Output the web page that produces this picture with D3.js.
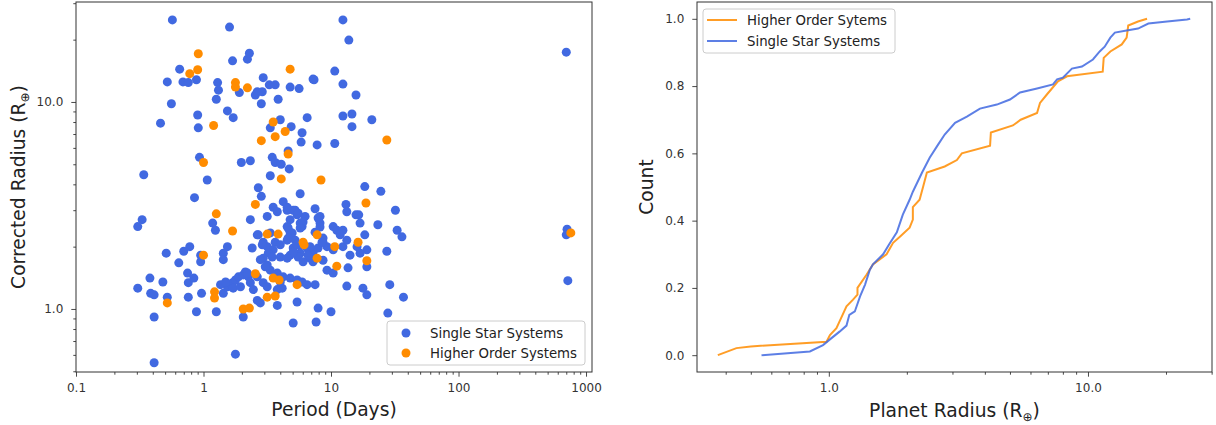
<!DOCTYPE html>
<html><head><meta charset="utf-8">
<script src="https://cdn.jsdelivr.net/npm/d3@7"></script>
<style>body{margin:0;background:#fff} svg text{font-family:"DejaVu Sans",sans-serif}</style>
</head><body><svg id="c" width="1216" height="425"></svg>
<script>
// Left panel: [period (days), corrected radius (R_earth)]
const singleStars = [[0.57,24.9],[1.6,23.0],[1.69,15.8],[2.21,16.1],[2.29,17.2],[0.65,14.4],[0.52,12.5],[0.69,12.5],[0.76,12.4],[0.88,12.8],[1.29,12.4],[1.31,11.4],[1.26,10.3],[1.91,11.1],[2.55,10.8],[2.64,11.2],[2.89,11.2],[2.94,13.1],[3.28,12.1],[3.65,12.1],[3.85,10.3],[2.84,9.8],[4.78,11.8],[5.62,11.6],[7.23,12.9],[0.56,9.8],[0.46,7.9],[0.9,8.65],[0.91,7.5],[1.54,9.05],[1.71,8.4],[4.0,8.2],[3.34,7.5],[4.87,7.6],[6.5,8.4],[5.93,7.1],[5.83,6.4],[7.78,6.2],[0.93,5.4],[1.98,5.1],[2.33,5.2],[3.46,5.4],[3.65,5.1],[4.07,5.0],[4.61,5.8],[4.7,4.75],[3.34,4.4],[0.34,4.45],[1.07,4.2],[2.69,3.85],[2.84,3.5],[5.73,3.6],[0.85,3.45],[12.4,24.9],[13.8,19.9],[700,17.4],[10.7,14.1],[7.36,12.8],[12.4,12.2],[15.7,10.8],[12.4,8.55],[14.6,8.75],[14.6,7.6],[20.9,8.2],[10.7,6.3],[18.4,3.9],[24.6,3.7],
[4.22,3.3],[4.53,3.0],[3.52,3.1],[3.79,2.95],[7.5,3.05],[3.16,2.8],[5.05,3.0],[5.42,2.85],[0.33,2.7],[0.305,2.5],[2.33,2.7],[1.18,2.6],[1.24,2.4],[13.1,3.2],[13.3,2.95],[15.7,2.85],[16.5,2.85],[32,3.0],[6.26,2.8],[8.2,2.8],[8.2,2.6],[5.73,2.6],[4.78,2.7],[5.93,2.5],[16.9,2.6],[23.3,2.55],[10.4,2.5],[11.1,2.4],[12.4,2.4],[33,2.4],[36,2.23],[7.5,2.35],[4.53,2.5],[4.78,2.35],[4.53,2.15],[8.66,2.1],[9.3,2.0],[10.4,1.93],[12.4,2.0],[13.3,2.15],[16.0,2.0],[19.1,1.93],[27.4,1.9],[7.23,1.88],[5.73,1.86],[2.64,2.28],[2.94,2.1],[2.41,1.97],[3.16,2.0],[3.34,2.33],[3.65,2.1],[4.0,2.04],[3.52,1.93],[3.22,1.86],[2.94,1.76],[4.0,1.78],[0.51,1.86],[0.7,1.9],[0.78,2.0],[0.95,1.82],[0.95,1.69],[1.54,2.0],[1.43,1.86],[1.43,1.73],[11.8,2.28],[18.4,2.28],[5.23,2.15],[5.73,2.02],[6.49,1.97],[8.66,2.2],[7.92,1.97],[8.66,1.72],[6.85,1.76],[14.1,1.82],[16.9,1.86],[5.05,1.97],[4.78,1.82],[5.52,1.78],
[2.79,1.73],[3.16,1.63],[7.23,1.69],[6.04,1.69],[19.1,1.6],[13.6,1.58],[9.3,1.54],[10.4,1.49],[0.64,1.67],[0.75,1.49],[0.76,1.34],[0.84,1.41],[0.38,1.41],[0.48,1.35],[0.305,1.26],[0.385,1.19],[0.41,1.17],[0.52,1.14],[0.76,1.14],[0.965,1.19],[1.43,1.19],[1.54,1.28],[1.69,1.34],[1.78,1.38],[1.88,1.43],[2.05,1.46],[1.71,1.26],[1.95,1.28],[3.34,1.54],[3.79,1.49],[4.22,1.43],[4.78,1.41],[5.42,1.38],[5.93,1.35],[2.64,1.43],[2.94,1.34],[3.16,1.28],[3.79,1.24],[4.14,1.26],[2.64,1.1],[2.79,1.07],[3.79,1.04],[5.42,1.08],[7.92,1.01],[0.41,0.915],[0.88,0.97],[1.26,0.97],[2.05,0.915],[5.05,0.855],[7.64,0.865],[1.78,0.605],[0.41,0.55],[4.0,1.35],[6.49,1.31],[7.5,1.31],[13.3,1.29],[17.8,1.26],[19.1,1.17],[28.9,1.31],[37,1.14],[10,0.97],[27.9,0.955],[710,2.43],[700,2.28],[720,1.37],[2.25,1.43],[2.33,1.34],[2.46,1.24],[2.13,1.51],
[6.04,2.63],[5.73,2.46],[4.61,2.46],[4.96,2.33],[4.61,2.2],[5.42,2.04],[5.05,1.88],[6.85,2.0],[8.5,2.1],[6.6,1.82],[3.46,1.78],[4.53,1.76],[2.89,2.04],[2.69,2.28],[8.2,2.49],[7.92,2.75],[5.23,3.0],[5.52,2.9],[4.53,3.1],[1.36,1.31],[1.49,1.35],[3.05,1.6],[2.21,1.49]];

const higherOrder = [[0.91,17.1],[0.78,13.7],[0.9,14.3],[1.78,12.4],[1.78,11.8],[2.21,11.7],[4.78,14.4],[1.2,7.7],[3.52,8.0],[4.37,7.2],[3.65,6.8],[2.84,6.5],[4.61,5.6],[1.0,5.1],[4.07,4.25],[8.35,4.2],[2.55,3.2],[1.26,2.88],[27.4,6.55],[18.8,3.25],[1.69,2.38],[3.16,2.3],[3.85,2.3],[6.04,2.1],[6.15,2.04],[7.78,2.28],[7.78,1.76],[1.0,1.82],[2.55,1.48],[3.52,1.41],[3.92,1.38],[5.42,1.31],[1.22,1.21],[1.22,1.13],[0.52,1.07],[3.16,1.14],[3.65,1.155],[2.05,1.0],[2.29,1.01],[10.7,2.0],[16.3,2.1],[11.1,1.61],[19.1,1.71],[760,2.33]];

// Right panel: cumulative curves, planet radius vs count fraction
const singleCdfRadius = [0.55,0.845,0.95,1.01,1.10,1.17,1.2,1.26,1.32,1.38,1.44,1.48,1.62,1.71,1.83,1.93,2.05,2.11,2.29,2.45,2.64,2.8,3.07,3.41,3.83,4.45,5.0,5.47,6.36,7.33,7.6,8.0,8.67,9.48,10.45,11.1,11.6,12.2,12.7,14.1,15.6,17.1,20.2,24.1,24.8];
const singleCdfCount  = [0.0,0.011,0.03,0.047,0.07,0.088,0.12,0.13,0.175,0.21,0.254,0.27,0.30,0.33,0.365,0.418,0.462,0.486,0.543,0.587,0.626,0.656,0.691,0.709,0.733,0.745,0.76,0.781,0.793,0.805,0.82,0.825,0.852,0.858,0.879,0.903,0.917,0.944,0.959,0.965,0.971,0.986,0.992,0.998,1.0];
const higherCdfRadius = [0.373,0.44,0.5,0.98,1.01,1.07,1.13,1.17,1.24,1.29,1.29,1.4,1.48,1.67,1.77,1.88,2.05,2.11,2.11,2.24,2.31,2.39,2.8,3.12,3.26,4.19,4.22,5.13,5.5,6.36,6.53,6.94,7.66,8.3,11.4,11.5,12.2,13.5,14.1,14.3,15.6,16.9];
const higherCdfCount  = [0.0,0.021,0.026,0.04,0.06,0.08,0.12,0.145,0.165,0.18,0.2,0.24,0.27,0.30,0.334,0.352,0.379,0.403,0.44,0.462,0.5,0.543,0.561,0.58,0.6,0.623,0.662,0.683,0.7,0.72,0.75,0.775,0.814,0.829,0.843,0.884,0.903,0.924,0.944,0.98,0.992,1.0];

const leftXTicks = [0.1,1,10,100,1000];
const leftXTickLabels = ["0.1","1","10","100","1000"];
const leftYTicks = [1,10];
const leftYTickLabels = ["1.0","10.0"];
const rightXTicks = [1,10];
const rightXTickLabels = ["1.0","10.0"];
const rightYTicks = [0,0.2,0.4,0.6,0.8,1.0];
const rightYTickLabels = ["0.0","0.2","0.4","0.6","0.8","1.0"];

const BLUE = "#4169E1", ORANGE = "#FF8C00";
const svg = d3.select("#c");
const FONT = '"DejaVu Sans", sans-serif';
const MR = 4.5;

function minorLog(lo, hi) {
  const out = [];
  for (let e = -2; e <= 3; e++) for (let k = 2; k <= 9; k++) {
    const v = k * Math.pow(10, e);
    if (v >= lo && v <= hi) out.push(v);
  }
  return out;
}

function styleAxis(g) {
  g.attr("font-family", FONT).attr("font-size", 12);
  g.select(".domain").remove();
  g.selectAll(".tick line").attr("stroke", "#333").attr("stroke-width", 0.9);
  g.selectAll(".tick text").attr("fill", "#333");
}

function drawAxes(x, y, x0, y0, x1, y1, xt, xtl, yt, ytl, xMinor, yMinor) {
  const ax = svg.append("g").attr("transform", `translate(0,${y1})`)
    .call(d3.axisBottom(x).tickValues(xt).tickFormat((d,i)=>xtl[i]).tickSize(4.7).tickPadding(6.5).tickSizeOuter(0));
  styleAxis(ax);
  if (xMinor) {
    const am = svg.append("g").attr("transform", `translate(0,${y1})`)
      .call(d3.axisBottom(x).tickValues(xMinor).tickFormat("").tickSize(2.7).tickSizeOuter(0));
    styleAxis(am);
  }
  const ay = svg.append("g").attr("transform", `translate(${x0},0)`)
    .call(d3.axisLeft(y).tickValues(yt).tickFormat((d,i)=>ytl[i]).tickSize(4.7).tickPadding(8).tickSizeOuter(0));
  styleAxis(ay);
  if (yMinor) {
    const aym = svg.append("g").attr("transform", `translate(${x0},0)`)
      .call(d3.axisLeft(y).tickValues(yMinor).tickFormat("").tickSize(2.7).tickSizeOuter(0));
    styleAxis(aym);
  }
  svg.append("rect").attr("x", x0).attr("y", y0).attr("width", x1 - x0).attr("height", y1 - y0)
    .attr("fill", "none").attr("stroke", "#333").attr("stroke-width", 1);
}

// ---------- Left panel ----------
const L = {x0: 76, y0: 2, x1: 592, y1: 372};
const xL = d3.scaleLog().domain([0.1, 1114]).range([L.x0, L.x1]);
const yL = d3.scaleLog().domain([0.496, 30.4]).range([L.y1, L.y0]);

const gL = svg.append("g");
gL.selectAll("circle.s").data(singleStars).join("circle")
  .attr("cx", d => xL(d[0])).attr("cy", d => yL(d[1])).attr("r", MR).attr("fill", BLUE);
gL.selectAll("circle.h").data(higherOrder).join("circle")
  .attr("cx", d => xL(d[0])).attr("cy", d => yL(d[1])).attr("r", MR).attr("fill", ORANGE);

drawAxes(xL, yL, L.x0, L.y0, L.x1, L.y1, leftXTicks, leftXTickLabels, leftYTicks, leftYTickLabels,
  minorLog(0.1, 1114), minorLog(0.496, 30.4));

// legend left
const lg = svg.append("g");
lg.append("rect").attr("x", 387).attr("y", 321).attr("width", 198).attr("height", 44).attr("rx", 3)
  .attr("fill", "#fff").attr("fill-opacity", 0.8).attr("stroke", "#ccc");
[["Single Star Systems", BLUE, 333], ["Higher Order Systems", ORANGE, 353]].forEach(([t, c, yy]) => {
  lg.append("circle").attr("cx", 406).attr("cy", yy).attr("r", MR).attr("fill", c);
  lg.append("text").attr("x", 430).attr("y", yy + 4.6).attr("font-size", 13.3).attr("fill", "#222").text(t);
});

// axis labels left
svg.append("text").attr("x", (L.x0 + L.x1) / 2).attr("y", 416).attr("text-anchor", "middle")
  .attr("font-size", 18.7).attr("fill", "#222").text("Period (Days)");
const yl = svg.append("text").attr("transform", `translate(25,${(L.y0 + L.y1) / 2}) rotate(-90)`)
  .attr("text-anchor", "middle").attr("font-size", 18.7).attr("fill", "#222");
yl.append("tspan").text("Corrected Radius (R");
yl.append("tspan").attr("font-size", 12).attr("dy", 4).text("⊕");
yl.append("tspan").attr("dy", -4).text(")");

// ---------- Right panel ----------
const R = {x0: 697, y0: 2, x1: 1212, y1: 372};
const xR = d3.scaleLog().domain([0.31, 30.1]).range([R.x0, R.x1]);
const yR = d3.scaleLinear().domain([-0.05, 1.05]).range([R.y1, R.y0]);

const line = d3.line().x(d => xR(d[0])).y(d => yR(d[1]));
const higherCdf = higherCdfRadius.map((r, i) => [r, higherCdfCount[i]]);
const singleCdf = singleCdfRadius.map((r, i) => [r, singleCdfCount[i]]);
svg.append("path").datum(higherCdf).attr("d", line).attr("fill", "none")
  .attr("stroke", ORANGE).attr("stroke-opacity", 0.85).attr("stroke-width", 2);
svg.append("path").datum(singleCdf).attr("d", line).attr("fill", "none")
  .attr("stroke", BLUE).attr("stroke-opacity", 0.85).attr("stroke-width", 2);

drawAxes(xR, yR, R.x0, R.y0, R.x1, R.y1, rightXTicks, rightXTickLabels, rightYTicks, rightYTickLabels,
  minorLog(0.31, 30.1), null);

// legend right
const rg = svg.append("g");
rg.append("rect").attr("x", 703).attr("y", 9).attr("width", 192).attr("height", 44).attr("rx", 3)
  .attr("fill", "#fff").attr("fill-opacity", 0.8).attr("stroke", "#ccc");
[["Higher Order Sytems", ORANGE, 20], ["Single Star Systems", BLUE, 41]].forEach(([t, c, yy]) => {
  rg.append("line").attr("x1", 707).attr("x2", 737).attr("y1", yy).attr("y2", yy)
    .attr("stroke", c).attr("stroke-opacity", 0.85).attr("stroke-width", 2);
  rg.append("text").attr("x", 747).attr("y", yy + 5).attr("font-size", 13.3).attr("fill", "#222").text(t);
});

svg.append("text").attr("x", (R.x0 + R.x1) / 2).attr("y", 417).attr("text-anchor", "middle")
  .attr("font-size", 18.7).attr("fill", "#222")
  .call(t => { t.append("tspan").text("Planet Radius (R"); t.append("tspan").attr("font-size", 12).attr("dy", 4).text("⊕"); t.append("tspan").attr("dy", -4).text(")"); });
svg.append("text").attr("transform", `translate(653,${(R.y0 + R.y1) / 2}) rotate(-90)`)
  .attr("text-anchor", "middle").attr("font-size", 18.7).attr("fill", "#222").text("Count");
</script></body></html>
